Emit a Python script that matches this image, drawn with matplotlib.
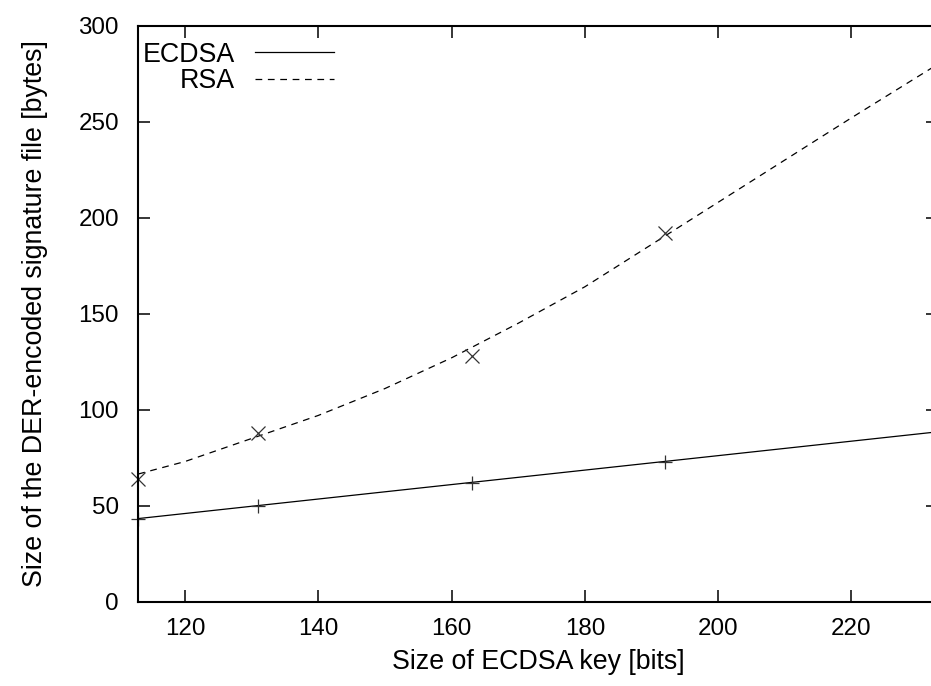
import matplotlib
matplotlib.use("Agg")
import matplotlib.pyplot as plt

# measured points
ecdsa_keys = [113, 131, 163, 192]
ecdsa_sizes = [43, 50, 62, 73]
rsa_keys = [113, 131, 163, 192]
rsa_sizes = [64, 88, 128, 192]

# fitted curves
ecdsa_fit_x = [113, 233]
ecdsa_fit_y = [43.3, 88.5]
rsa_fit_x = [113, 120, 130, 140, 150, 160, 170, 180, 190, 200, 210, 220, 233]
rsa_fit_y = [66.5, 73, 85, 97, 111, 127, 145, 164, 186, 208, 230, 252, 280]

xticks = [120, 140, 160, 180, 200, 220]
yticks = [0, 50, 100, 150, 200, 250, 300]

plt.rcParams['font.family'] = ['Liberation Sans', 'DejaVu Sans']
fs_tick = 17.4
fs = 19.3

fig = plt.figure(figsize=(9.31, 6.86), dpi=100)
ax = fig.add_axes([138.3 / 931, 1 - 601.7 / 686, (938 - 138.3) / 931, (601.7 - 25.7) / 686])

ax.plot(ecdsa_fit_x, ecdsa_fit_y, color='black', lw=0.9, label='ECDSA')
ax.plot(rsa_fit_x, rsa_fit_y, color='black', lw=0.9, linestyle=(0, (5.4, 4.5)), label='RSA')
ax.plot(ecdsa_keys, ecdsa_sizes, linestyle='none', marker='+', ms=9.5, mew=0.9,
        color='#333333', clip_on=False)
ax.plot(rsa_keys, rsa_sizes, linestyle='none', marker='x', ms=9.5, mew=0.9,
        color='#333333', clip_on=False)

ax.set_xlim(113, 233)
ax.set_ylim(0, 300)
ax.set_xticks(xticks)
ax.set_yticks(yticks)
ax.tick_params(direction='in', length=8.4, width=1.1, top=True, right=True,
               labelsize=fs_tick, pad=14)
ax.tick_params(axis='x', pad=12)
for s in ax.spines.values():
    s.set_linewidth(1.5)

ax.set_xlabel('Size of ECDSA key [bits]', fontsize=fs, labelpad=6)
ax.set_ylabel('Size of the DER-encoded signature file [bytes]', fontsize=fs, labelpad=22)

leg = ax.legend(loc='upper left', bbox_to_anchor=(0.005, 0.972), markerfirst=False,
                frameon=False, fontsize=fs, handlelength=2.95, handletextpad=0.75,
                labelspacing=0.02, borderpad=0, borderaxespad=0)

fig.savefig('out.png', dpi=100)
